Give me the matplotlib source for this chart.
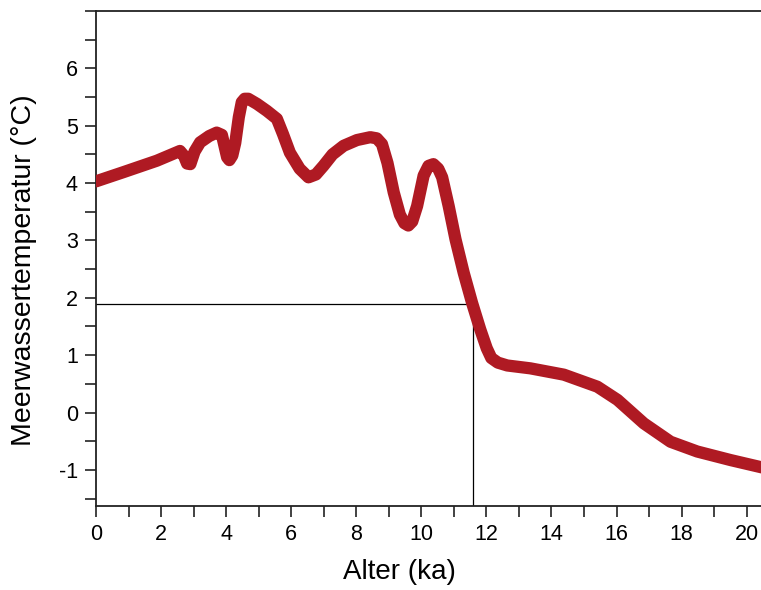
import matplotlib.pyplot as plt
import matplotlib

matplotlib.rc('font', family=['Liberation Sans', 'DejaVu Sans'])

# sea water temperature vs. age
age = [0.00, 0.84, 1.87, 2.58, 2.70, 2.80, 2.90, 3.03, 3.20, 3.48, 3.71,
       3.87, 3.96, 4.03, 4.10, 4.19, 4.28, 4.39, 4.48, 4.57, 4.68, 4.95,
       5.25, 5.56, 5.75, 5.96, 6.26, 6.53, 6.76, 6.99, 7.27, 7.61, 8.02,
       8.43, 8.63, 8.79, 8.96, 9.15, 9.34, 9.48, 9.60, 9.72, 9.87, 10.07,
       10.22, 10.37, 10.52, 10.64, 10.84, 11.05, 11.30, 11.56, 11.81,
       12.01, 12.15, 12.35, 12.64, 13.35, 14.38, 15.41, 16.03, 16.84,
       17.66, 18.48, 19.51, 20.49]
temp = [4.03, 4.19, 4.39, 4.56, 4.48, 4.34, 4.33, 4.55, 4.71, 4.82, 4.88,
        4.84, 4.62, 4.45, 4.40, 4.48, 4.70, 5.15, 5.41, 5.47, 5.47, 5.38,
        5.26, 5.12, 4.85, 4.53, 4.25, 4.10, 4.15, 4.30, 4.50, 4.65, 4.75,
        4.80, 4.78, 4.68, 4.35, 3.84, 3.45, 3.30, 3.26, 3.33, 3.60, 4.13,
        4.30, 4.33, 4.25, 4.10, 3.60, 3.02, 2.44, 1.91, 1.45,
        1.12, 0.95, 0.87, 0.82, 0.77, 0.66, 0.45, 0.22, -0.19,
        -0.51, -0.68, -0.83, -0.96]

# marker lines
mark_age = 11.6
mark_temp = 1.9

x_labels = [0, 2, 4, 6, 8, 10, 12, 14, 16, 18, 20]
y_labels = [-1, 0, 1, 2, 3, 4, 5, 6]

fig = plt.figure(figsize=(7.61, 5.90), dpi=100)
ax = fig.add_axes([96 / 761, 1 - 506 / 590, 1 - 96 / 761, (506 - 11) / 590])

ax.plot(age, temp, color='#AF1A23', lw=8.8, solid_capstyle='round',
        solid_joinstyle='round', zorder=3)
ax.plot([0, mark_age], [mark_temp, mark_temp], color='black', lw=0.9, zorder=2)
ax.plot([mark_age, mark_age], [-1.63, mark_temp], color='black', lw=0.9, zorder=2)

ax.set_xlim(0, 20.44)
ax.set_ylim(-1.63, 7.0)

ax.set_xticks(range(0, 21))
ax.set_xticklabels([str(v) if v in x_labels else '' for v in range(0, 21)])

yt = [v / 2 for v in range(-3, 15)]
ax.set_yticks(yt)
ax.set_yticklabels([str(int(v)) if v in y_labels else '' for v in yt])

ax.tick_params(direction='out', length=8, width=1.2, labelsize=15.5, pad=5,
               color='#222222')
ax.spines['right'].set_visible(False)
for s in ['left', 'bottom', 'top']:
    ax.spines[s].set_linewidth(1.3)
    ax.spines[s].set_color('#222222')

ax.set_xlabel('Alter (ka)', fontsize=20)
ax.set_ylabel('Meerwassertemperatur (°C)', fontsize=20.5)
ax.xaxis.set_label_coords(0.456, -0.108)
ax.yaxis.set_label_coords(-0.088, 0.477)

fig.savefig('out.png', dpi=100)
